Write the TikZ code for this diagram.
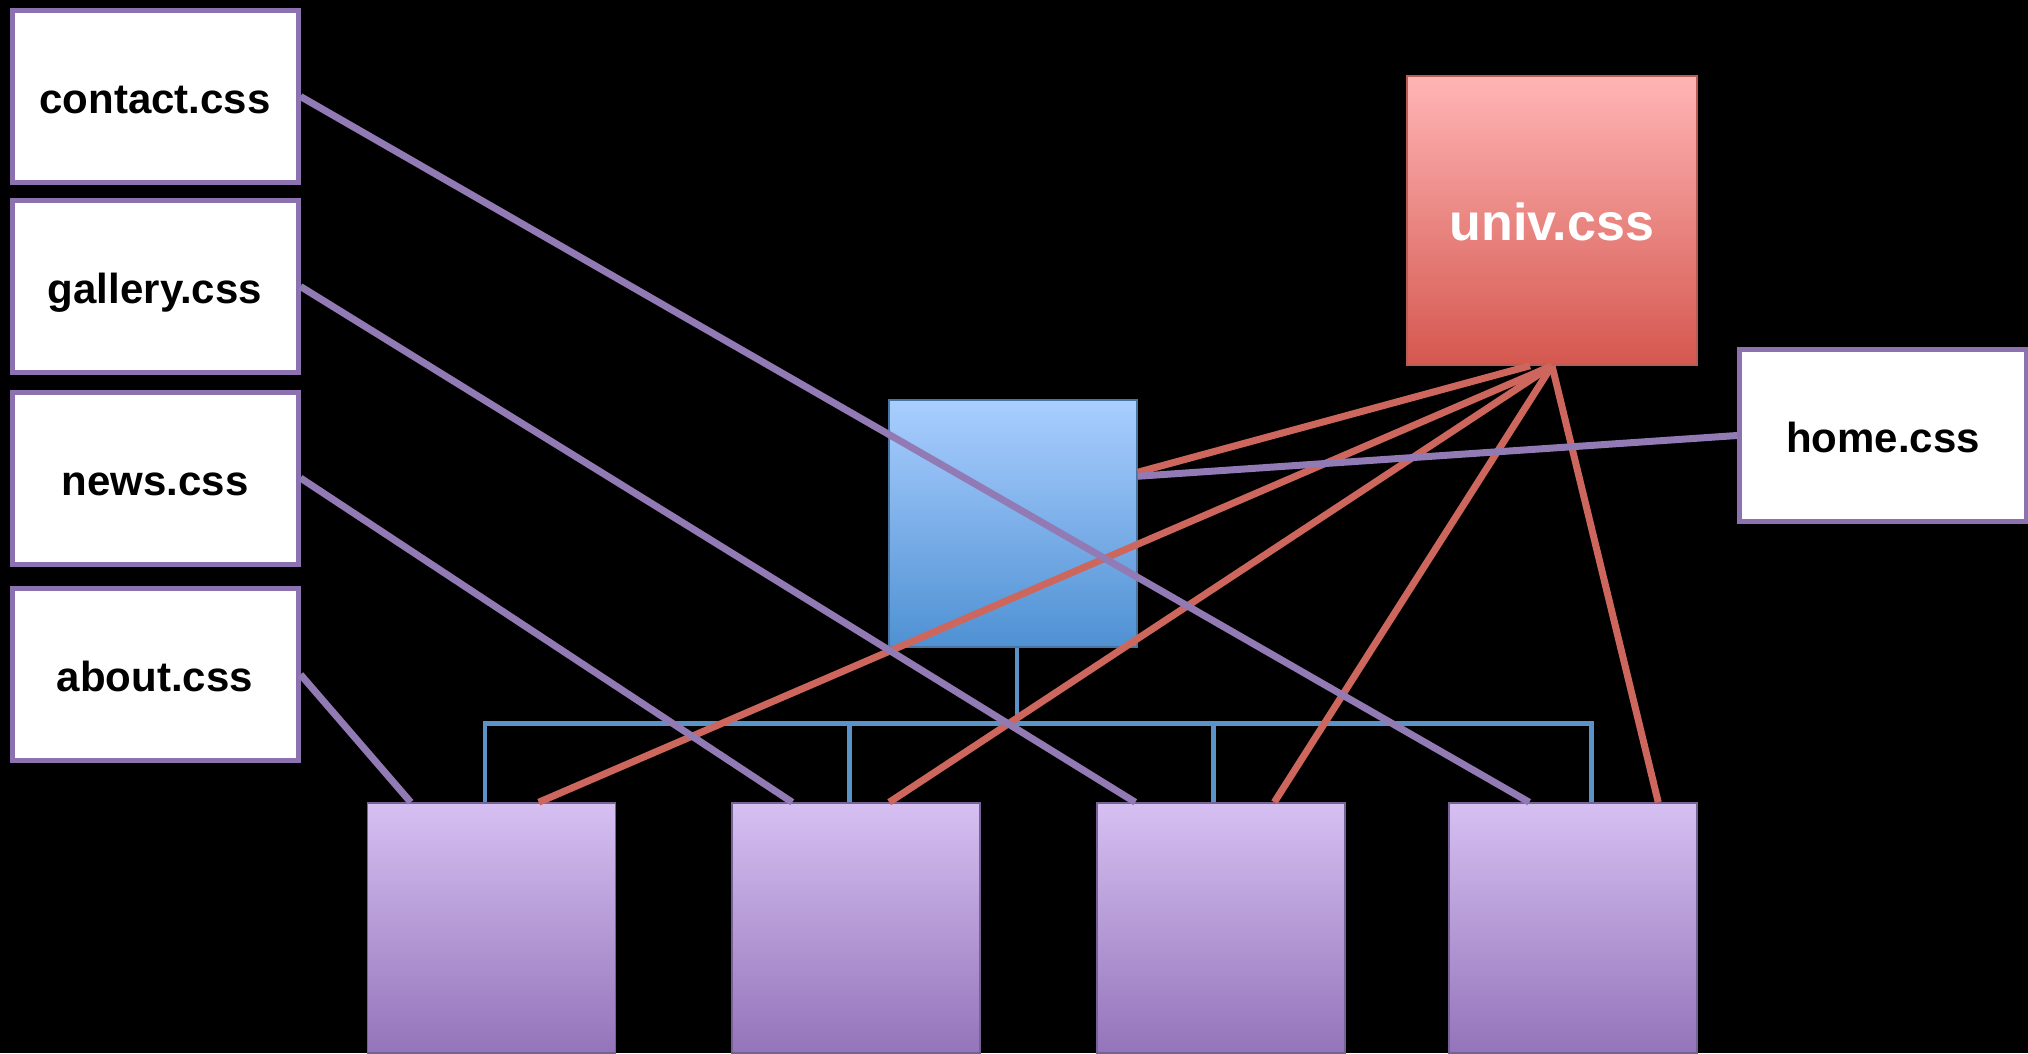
\documentclass[tikz,border=0pt]{standalone}
\usepackage{fontspec}
\setmainfont{Liberation Sans}
\usetikzlibrary{calc}
\definecolor{pline}{HTML}{927AB5}
\definecolor{rline}{HTML}{CD675D}
\definecolor{bline}{HTML}{5B93C8}
\definecolor{pborder}{HTML}{8C73B0}
\tikzset{
  filebox/.style={draw=pborder, line width=5pt, fill=white, minimum width=286pt, minimum height=172pt, inner sep=0pt, text height=36pt, text depth=2pt, font=\fontsize{42}{50}\selectfont\bfseries, text=black},
  univbox/.style={draw=rline!90!black, line width=1.5pt, top color=red!30!white!80!pink, bottom color=rline!85!red, minimum width=290pt, minimum height=289pt, inner sep=0pt, text height=42pt, text depth=2pt, font=\fontsize{52}{60}\selectfont\bfseries, text=white},
  pagebox/.style={draw=bline!80!black, line width=1.5pt, top color={rgb,255:red,170;green,206;blue,255}, bottom color={rgb,255:red,79;green,145;blue,211}, minimum width=248pt, minimum height=247pt, inner sep=0pt},
  subbox/.style={draw=pborder!85!black, line width=1.5pt, top color={rgb,255:red,214;green,192;blue,242}, bottom color={rgb,255:red,148;green,116;blue,186}, minimum width=248pt, minimum height=250pt, inner sep=0pt},
  pconn/.style={draw=pline, line width=7pt},
  rconn/.style={draw=rline, line width=7pt},
  bconn/.style={draw=bline, line width=4.5pt}
}
\begin{document}
\begin{tikzpicture}[x=1pt,y=-1pt]
\fill[black] (0,0) rectangle (2028,1053);
\useasboundingbox (0,0) rectangle (2028,1053);
% nodes
\node[filebox] (contact) at (155,96.5) {contact.css};
\node[filebox] (gallery) at (155,286.5) {gallery.css};
\node[filebox] (news) at (155,478) {news.css};
\node[filebox] (about) at (155,674.5) {about.css};
\node[filebox, minimum width=287pt] (home) at (1883,435.5) {home.css};
\node[univbox] (univ) at (1552,220.5) {univ.css};
\node[pagebox] (page) at (1013,523.5) {};
\node[subbox] (p1) at (491.5,928) {};
\node[subbox] (p2) at (856,928) {};
\node[subbox] (p3) at (1221,928) {};
\node[subbox] (p4) at (1573,928) {};
% blue tree
\coordinate (bus) at (1017,724);
\draw[bconn] (page.south -| bus) -- (bus);
\draw[bconn] ($(p1.north west)+(118,0)$) -- ($(p1.north west)+(118,-79)$) -- ($(p4.north west)+(143,-79)$) -- ($(p4.north west)+(143,0)$);
\draw[bconn] ($(p2.north west)+(118,0)$) -- ($(p2.north west)+(118,-79)$);
\draw[bconn] ($(p3.north west)+(117,0)$) -- ($(p3.north west)+(117,-79)$);
% red connectors
\draw[rconn] ($(univ.south)+(-22,0)$) -- ($(page.north east)+(0,73)$);
\draw[rconn] (univ.south) -- ($(p1.north west)+(172,0)$);
\draw[rconn] (univ.south) -- ($(p2.north west)+(158,0)$);
\draw[rconn] (univ.south) -- ($(p3.north west)+(178,0)$);
\draw[rconn] (univ.south) -- ($(p4.north west)+(210,0)$);
% purple connectors
\draw[pconn] (home.west) -- ($(page.north east)+(0,77)$);
\draw[pconn] (contact.east) -- ($(p4.north west)+(81,0)$);
\draw[pconn] (gallery.east) -- ($(p3.north west)+(39,0)$);
\draw[pconn] (news.east) -- ($(p2.north west)+(61,0)$);
\draw[pconn] (about.east) -- ($(p1.north west)+(44,0)$);
\end{tikzpicture}
\end{document}
